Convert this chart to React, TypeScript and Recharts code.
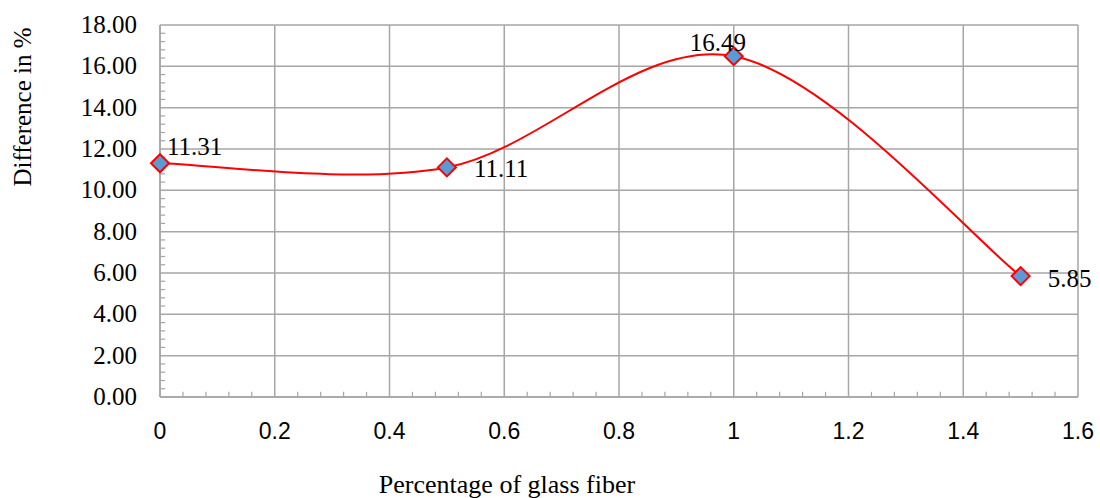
import React from 'react'
import { LineChart, Line, XAxis, YAxis, CartesianGrid, ReferenceLine, LabelList } from 'recharts'

// percentage of glass fiber vs difference in %
const fiberPct = [0, 0.5, 1, 1.5]
const difference = [11.31, 11.11, 16.49, 5.85]

const xTicks = [0, 0.2, 0.4, 0.6, 0.8, 1, 1.2, 1.4, 1.6]
const yTicks = [0, 2, 4, 6, 8, 10, 12, 14, 16, 18]

// small inward ticks between the grid lines
const xMinor = [
  0.04, 0.08, 0.12, 0.16, 0.24, 0.28, 0.32, 0.36, 0.44, 0.48, 0.52, 0.56,
  0.64, 0.68, 0.72, 0.76, 0.84, 0.88, 0.92, 0.96, 1.04, 1.08, 1.12, 1.16,
  1.24, 1.28, 1.32, 1.36, 1.44, 1.48, 1.52, 1.56,
]
const yMinor = [
  0.4, 0.8, 1.2, 1.6, 2.4, 2.8, 3.2, 3.6, 4.4, 4.8, 5.2, 5.6, 6.4, 6.8, 7.2, 7.6,
  8.4, 8.8, 9.2, 9.6, 10.4, 10.8, 11.2, 11.6, 12.4, 12.8, 13.2, 13.6,
  14.4, 14.8, 15.2, 15.6, 16.4, 16.8, 17.2, 17.6,
]

const data = fiberPct.map((x, i) => ({ x, y: difference[i] }))

// where each value label sits relative to its marker (dx, dy, anchor)
const labelPos: [number, number, 'start' | 'middle'][] = [
  [7, -8, 'start'],
  [27, 10, 'start'],
  [-16, -5, 'middle'],
  [27, 11, 'start'],
]

const GRID = '#a6a6a6'
const SERIF = '"Liberation Serif", "Times New Roman", serif'
const SANS = '"Liberation Sans", Arial, sans-serif'

// Excel-style smoothed line (cardinal spline, tension 1/6)
const excelSmooth = (context: any) => {
  let pts: number[][] = []
  return {
    areaStart() {},
    areaEnd() {},
    lineStart() {
      pts = []
    },
    point(x: number, y: number) {
      pts.push([+x, +y])
    },
    lineEnd() {
      const n = pts.length
      if (!n) return
      context.moveTo(pts[0][0], pts[0][1])
      for (let i = 0; i < n - 1; i++) {
        const p0 = pts[Math.max(i - 1, 0)]
        const p1 = pts[i]
        const p2 = pts[i + 1]
        const p3 = pts[Math.min(i + 2, n - 1)]
        context.bezierCurveTo(
          p1[0] + (p2[0] - p0[0]) / 6,
          p1[1] + (p2[1] - p0[1]) / 6,
          p2[0] - (p3[0] - p1[0]) / 6,
          p2[1] - (p3[1] - p1[1]) / 6,
          p2[0],
          p2[1]
        )
      }
    },
  }
}

const Diamond = (props: any) => {
  const { cx, cy, index } = props
  if (cx == null || cy == null) return <g key={index} />
  const r = 9
  return (
    <polygon
      key={`d-${index}`}
      points={`${cx},${cy - r} ${cx + r},${cy} ${cx},${cy + r} ${cx - r},${cy}`}
      fill="#5b9bd5"
      stroke="#ff0000"
      strokeWidth={2}
    />
  )
}

const ValueLabel = (props: any) => {
  const { x, y, value } = props
  let i = props.index
  if (i == null) i = difference.indexOf(value)
  const [dx, dy, anchor] = labelPos[i] || [0, 0, 'start']
  return (
    <text x={x + dx} y={y + dy} textAnchor={anchor} fontFamily={SERIF} fontSize={25} fill="#000">
      {value}
    </text>
  )
}

const XTick = (props: any) => {
  const { x, y, payload } = props
  return (
    <text x={x} y={y + 42} textAnchor="middle" fontFamily={SANS} fontSize={23} fill="#000">
      {payload.value}
    </text>
  )
}

const YTick = (props: any) => {
  const { x, y, payload } = props
  return (
    <text x={x - 23} y={y + 8} textAnchor="end" fontFamily={SERIF} fontSize={25} fill="#000">
      {Number(payload.value).toFixed(2)}
    </text>
  )
}

export default function App() {
  return (
    <div style={{ position: 'absolute', left: 0, top: 0, background: 'white' }}>
      <LineChart width={1100} height={498} data={data} margin={{ top: 25, right: 22, left: 0, bottom: 0 }}>
        <CartesianGrid stroke={GRID} strokeWidth={1.5} verticalValues={xTicks} horizontalValues={yTicks} />
        <XAxis
          dataKey="x"
          type="number"
          domain={[0, 1.6]}
          ticks={xTicks}
          height={101}
          tickLine={false}
          tickSize={0}
          tickMargin={0}
          axisLine={{ stroke: GRID, strokeWidth: 1.5 }}
          tick={<XTick />}
          interval={0}
          label={{
            content: ({ viewBox }: any) => (
              <text x={viewBox.x + 347} y={viewBox.y + 96} textAnchor="middle" fontFamily={SERIF} fontSize={26} fill="#000">
                Percentage of glass fiber
              </text>
            ),
          }}
        />
        <YAxis
          type="number"
          domain={[0, 18]}
          ticks={yTicks}
          width={160}
          tickLine={false}
          tickSize={0}
          tickMargin={0}
          axisLine={{ stroke: GRID, strokeWidth: 1.5 }}
          tick={<YTick />}
          interval={0}
          label={{
            content: () => (
              <text x={31} y={107} transform="rotate(-90 31 107)" textAnchor="middle" fontFamily={SERIF} fontSize={25} fill="#000">
                Difference in %
              </text>
            ),
          }}
        />
        {xMinor.map((v) => (
          <ReferenceLine key={`xm${v}`} segment={[{ x: v, y: 0 }, { x: v, y: 0.25 }]} stroke={GRID} strokeWidth={1.2} />
        ))}
        {yMinor.map((v) => (
          <ReferenceLine key={`ym${v}`} segment={[{ x: 0, y: v }, { x: 0.009, y: v }]} stroke={GRID} strokeWidth={1.2} />
        ))}
        <Line
          dataKey="y"
          type={excelSmooth as any}
          stroke="#ff0000"
          strokeWidth={2}
          dot={Diamond}
          activeDot={false}
          isAnimationActive={false}
        >
          <LabelList dataKey="y" content={ValueLabel} />
        </Line>
      </LineChart>
    </div>
  )
}
